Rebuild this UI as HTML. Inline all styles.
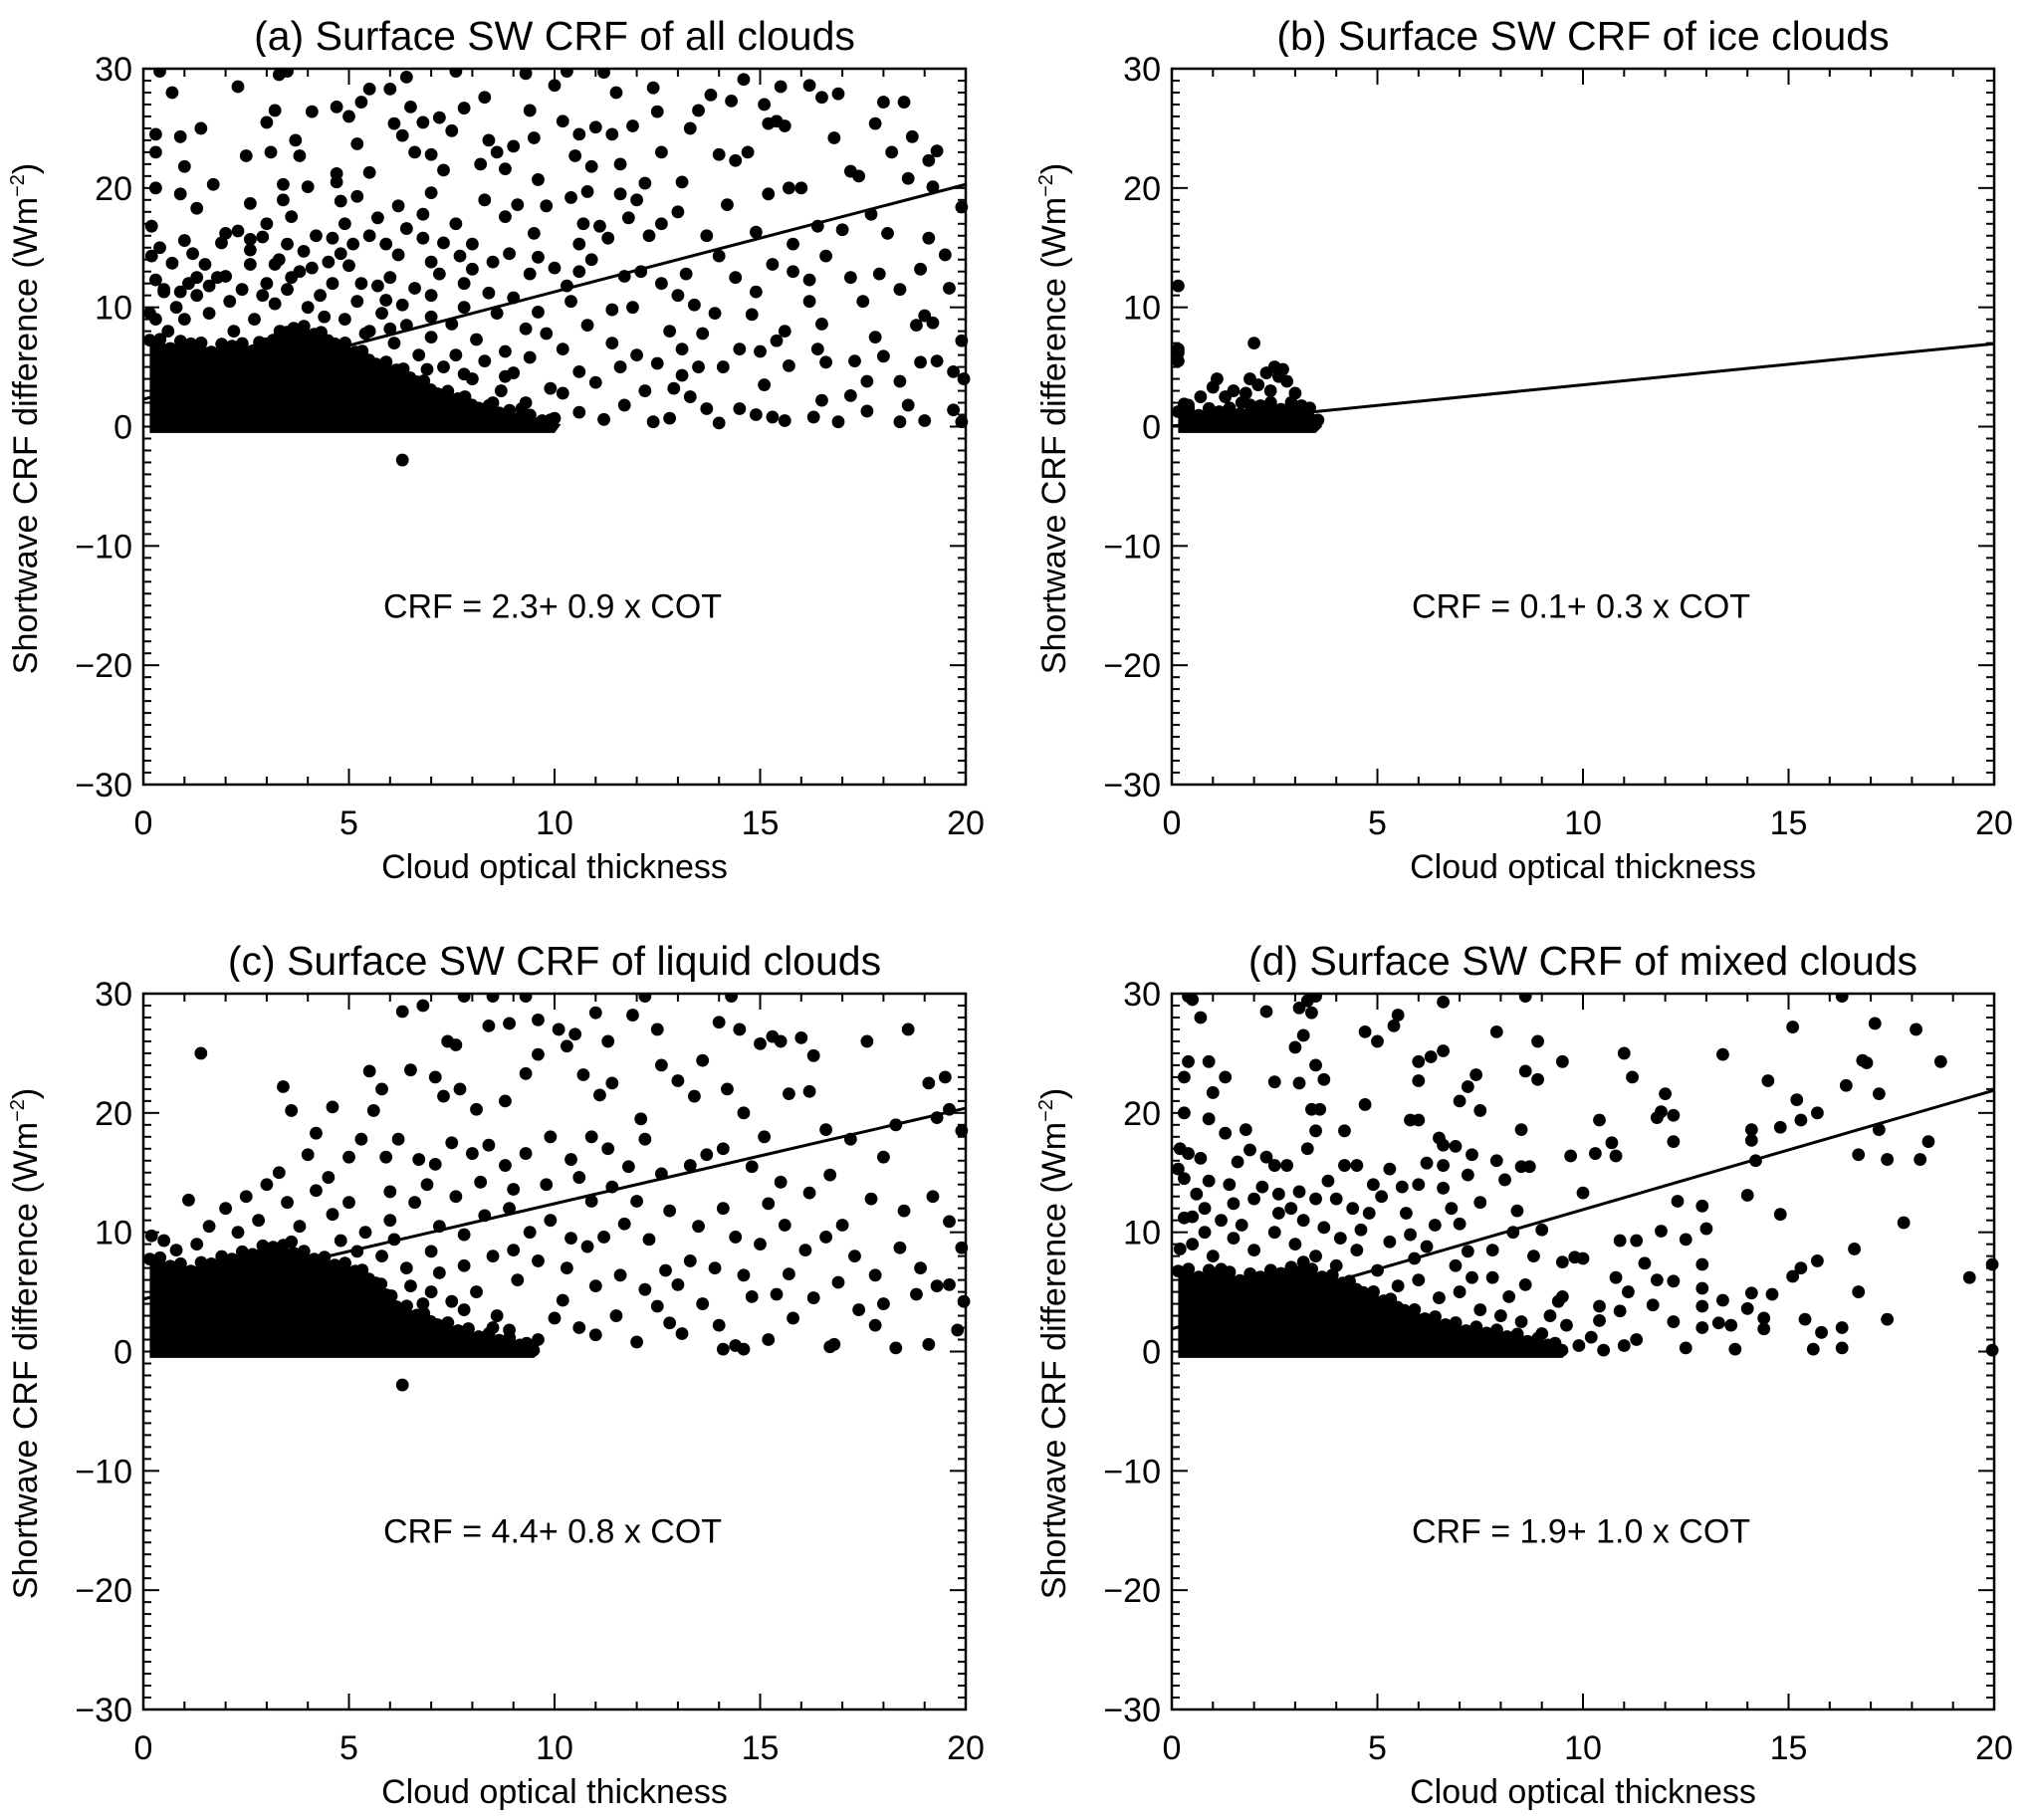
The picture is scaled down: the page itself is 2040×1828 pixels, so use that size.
<!DOCTYPE html>
<html><head><meta charset="utf-8"><style>
html,body{margin:0;padding:0;background:#fff;}
svg{display:block;font-family:"Liberation Sans",Arial,sans-serif;}
</style></head><body>
<svg id="fig" width="2040" height="1828" viewBox="0 0 2040 1828" xmlns="http://www.w3.org/2000/svg"></svg>
<script>
const panelIds=['a','b','c','d'];
const titles=['(a) Surface SW CRF of all clouds','(b) Surface SW CRF of ice clouds','(c) Surface SW CRF of liquid clouds','(d) Surface SW CRF of mixed clouds'];
const equations=['CRF =  2.3+ 0.9 x COT','CRF =  0.1+ 0.3 x COT','CRF =  4.4+ 0.8 x COT','CRF =  1.9+ 1.0 x COT'];
const fitIntercepts=[2.3,0.05,4.4,1.9];
const fitSlopes=[0.9,0.345,0.8,1.0];
const xTickLabels=['0','5','10','15','20'];
const yTickLabels=['\u221230','\u221220','\u221210','0','10','20','30'];
const denseA=[[0,7.5],[0.5,6.8],[1,7.2],[1.5,6.5],[2,7],[2.5,6.6],[3,7.5],[3.5,8.5],[4,8],[4.5,7.2],[5,6.5],[5.5,5.5],[6,5],[6.5,4],[7,3],[7.5,2.6],[8,1.8],[8.5,1.4],[9,1],[9.5,0.6],[10,0.2]];
const denseB=[[0,1.5],[0.5,1.2],[1,1.5],[1.5,1.3],[2,2],[2.5,1.7],[3,2],[3.4,0.8],[3.5,0]];
const denseC=[[0,8],[0.5,7.4],[1,7],[1.5,7.6],[2,8],[2.5,8.4],[3,9],[3.5,8.5],[4,8],[4.5,7.5],[5,7],[5.5,6],[6,4],[6.5,3.3],[7,2.5],[7.5,2],[8,1.5],[8.5,1.2],[9,0.8],[9.5,0]];
const denseD=[[0,7],[0.5,6.5],[1,6.8],[1.5,6.2],[2,6.5],[2.5,6.8],[3,7],[3.5,6.5],[4,6],[4.5,5.2],[5,4.5],[5.5,3.7],[6,3],[6.5,2.5],[7,2],[7.5,1.8],[8,1.5],[8.5,1.1],[9,0.8],[9.5,0]];
const pointsA=[[0.4,29.8],[0.7,28],[0.3,24.5],[0.3,23],[0.9,24.3],[1.0,21.8],[0.3,20],[1.3,18.3],[1.4,25],[0.9,19.5],[2.3,28.5],[2.5,22.7],[3.0,25.5],[3.2,26.5],[3.1,23],[3.3,29.5],[3.5,30],[3.4,20.3],[3.7,24],[3.8,22.7],[3.4,19],[3.6,17.6],[4.1,26.4],[4.0,20.1],[4.7,26.8],[4.7,21.2],[4.7,20.5],[4.8,18.9],[5.0,26],[5.3,27.2],[5.5,28.3],[5.2,23.7],[5.5,21.3],[5.7,17.5],[6.0,28.3],[6.1,25.4],[6.3,24.4],[6.4,29.3],[6.5,26.8],[6.6,23],[6.8,25.5],[7.0,22.8],[7.2,25.9],[7.3,21.5],[7.6,30],[7.8,26.7],[7.5,24.8],[8.2,22],[8.3,27.6],[8.4,24],[8.6,23],[8.8,21.6],[9.0,23.5],[9.3,29.6],[9.5,24.2],[9.4,26.5],[9.1,18.6],[9.6,20.7],[10.0,28.6],[10.2,25.6],[10.3,30],[10.5,22.7],[10.6,24.5],[10.8,19.7],[11.2,29.7],[11.0,25.1],[11.5,28],[11.4,24.5],[11.6,22],[11.9,25.2],[12.2,20.4],[12.5,26.4],[12.6,23],[12.4,28.4],[13.1,20.5],[13.3,25],[13.5,26.5],[13.8,27.8],[14.0,22.8],[14.3,27.3],[14.4,22.3],[14.6,29.1],[14.7,23],[15.1,27],[15.2,25.4],[15.4,25.6],[15.6,25.2],[15.5,28.5],[16.0,20],[16.2,28.6],[16.5,27.6],[16.8,24.2],[16.9,27.9],[17.2,21.4],[17.4,21],[17.8,25.4],[18.0,27.2],[18.2,23],[18.5,27.2],[18.7,24.3],[18.6,20.8],[19.1,22.3],[19.3,23.1],[19.2,20.1],[19.9,18.4],[15.7,20],[15.2,19.5],[14.2,18.6],[13.0,18],[12.0,19],[11.8,17.5],[10.7,17],[10.4,19.2],[9.8,18.5],[8.3,19],[7.6,17],[6.8,17.8],[6.2,18.5],
[0.2,16.8],[0.4,15],[0.2,14.3],[0.7,13.7],[0.5,11.5],[1.1,12],[1.5,13.6],[1.9,15.4],[2.0,16.2],[2.3,16.4],[2.6,15.7],[2.9,15.9],[3.2,13.6],[3.5,15.3],[3.9,14.7],[4.2,16],[4.6,15.8],[5.1,15.3],[5.5,16],[5.9,15.3],[6.4,16.6],[6.8,15.8],[7.3,15.4],[7.7,14.3],[8.0,15.3],[8.5,13.8],[8.9,14.5],[9.6,14.2],[10.0,13.3],[10.3,11.8],[10.6,15.3],[10.9,14],[11.3,15.8],[11.7,12.6],[12.1,13],[12.6,12],[13.0,11],[13.4,10.2],[13.9,9.5],[14.4,12.5],[14.9,11.3],[15.3,13.6],[15.8,13],[16.2,12.3],[16.5,8.6],[17.2,12.5],[17.5,10.5],[17.9,12.8],[18.4,11.5],[18.8,8.5],[19.0,9.3],[19.5,14.4],[19.9,7.2],[19.2,8.7],[17.0,16.5],[16.4,16.8],[17.7,17.8],[18.1,16.2],[19.1,15.8],[14.0,14.3],[13.2,12.8],[12.3,16],[11.1,16.8],[15.8,15.3],[6.0,12.5],[7.0,11],[7.8,10],[8.6,9.5],[9.3,8.2],[9.8,7.8],[10.2,6.5],[10.8,8.5],[11.4,7],[12.0,6],[12.5,5.3],[13.1,4.3],[13.5,5],[14.1,5],[14.5,6.5],[15.0,6.3],[15.4,7.2],[15.7,5.1],[16.4,6.5],[16.6,5.4],[17.3,5.5],[17.6,3.8],[18.0,5.9],[18.4,3.8],[18.9,5.4],[19.3,5.5],[19.7,4.6],[20.0,4],
[8.5,2],[9.2,1.5],[9.7,0.5],[10.2,2.8],[10.6,1.2],[11.2,0.6],[11.7,1.8],[12.2,3],[12.8,0.7],[13.3,2.5],[13.7,1.5],[14.0,0.3],[14.5,1.5],[15.1,3.5],[15.3,0.8],[15.6,0.5],[16.3,0.8],[16.5,2.2],[16.9,0.4],[17.2,2.6],[17.6,1.3],[18.4,0.4],[19.0,0.5],[19.7,1.4],[19.9,0.4],[12.4,0.4],[11.0,3.7],[10.0,0.7],[6.3,-2.8],
[0.1,9.5],[0.3,9],[0.5,11.3],[0.8,10],[1.0,9],[1.3,11],[1.6,9.5],[1.8,12.5],[2.1,10.5],[2.4,11.5],[2.7,9],[3.0,12],[3.2,10.3],[3.5,11.5],[3.8,13],[4.0,10],[4.3,11],[4.6,12],[4.9,9],[5.2,10.5],[5.5,8],[5.8,9.5],[6.1,7],[6.4,8.5],[6.7,6],[7.0,7.5],[7.3,5],[7.6,6],[8.0,4],[8.3,5.5],[8.7,3],[9.0,4.5],[9.3,2],[3.3,14],[2.6,13.6],[1.3,12.5],[5.0,13.5],[5.7,11.8],[6.3,10.2],[7.0,9.2],[7.5,8.6],[8.1,7.3],[8.8,6.3],[9.4,5.8],[4.4,9.2],[2.2,8],[0.6,8],
[0.3,12.3],[0.9,11.3],[1.6,11.8],[2.0,12.6],[2.9,11],[3.6,12.5],[4.1,13.3],[4.5,13.8],[5.3,12],[5.9,10.6],[6.6,11.6],[7.2,12.8],[7.8,12],[8.4,11.2],[9.0,10.8],[9.6,9.6],[5.4,7.8],[6.0,8.2],[6.9,4.8],[7.8,4.4],[8.8,4.2],[9.9,3.2],[10.6,4.6],[11.6,5],[12.8,8],[13.6,7.8],[14.8,9.4],[15.6,8],[16.2,10.5],[12.9,3.2],[11.4,9.8],[10.4,10.5],[9.4,12.8],[8.0,13.2],[7.0,13.8],[6.2,14.4],[4.8,14.5],[2.6,14.8],[1.2,14.5],[1.0,15.6],[3.0,17],[4.9,17],[5.2,19.3],[2.6,18.7],[1.7,20.3],[7.0,19.6],[8.8,17.6],[9.5,16.2],[10.9,21.8],[11.6,19.5],[13.7,16],[12.6,17],[14.9,16.3],[16.6,14.3],[18.9,13.2],[19.6,11.6],[17.8,7.5],[18.6,1.8],[14.9,1],[13.1,6.5],[11.9,10],[10.6,13]];
const pointsB=[[0.05,11.8],[0.1,6.5],[0.1,5.5],[0.15,6.2],[2.0,7],[2.5,5],[2.7,4.8],[2.3,4.5],[1.9,4],[1.1,4],[2.8,3.8],[2.1,3.5],[1.5,3],[0.7,2.5],[1.3,2.5],[0.4,1.8],[2.4,3],[3.0,2.8],[3.2,1.5],[3.5,0.5],[1.7,2],[2.9,1.2],[1.0,3.3],[2.6,4.2],[1.8,2.8],[0.3,1.9]];
const pointsC=[[9.3,30.5],[7.8,30],[8.5,30.5],[12.2,30.5],[14.3,30.5],[6.3,28.5],[6.8,29],[7.4,26],[7.6,25.7],[8.4,27.3],[8.9,27.5],[9.6,27.8],[10.1,27],[10.5,26.6],[11.0,28.4],[11.3,26],[11.9,28.2],[12.5,27],[12.6,24],[13.6,24.4],[14.0,27.6],[14.5,27],[15.0,25.8],[15.3,26.4],[15.5,26],[16.0,26.3],[16.3,24.8],[17.6,26],[18.6,27],[19.1,22.5],[19.5,23],[19.9,18.5],[1.4,25],[3.4,22.2],[3.6,20.2],[4.2,18.3],[4.6,20.5],[5.6,20.2],[5.8,22],[5.5,23.5],[6.5,23.6],[7.1,23],[7.3,21.4],[7.7,22],[8.1,20.3],[8.8,21],[9.3,23.3],[9.6,24.9],[10.3,25.6],[10.7,23.2],[11.1,21.5],[11.4,22.5],[12.1,19.5],[13.0,22.7],[13.4,21.4],[14.2,22],[14.6,20],[15.1,18],[15.7,21.6],[16.2,21.8],[16.6,18.6],[17.2,17.8],[18.0,16.3],[18.3,19],[19.3,19.6],[19.6,20.3],[4.0,16.5],[4.5,14.6],[5.0,16.3],[5.3,17.8],[5.9,16.3],[6.2,17.8],[6.7,16.1],[7.1,15.7],[7.5,17.5],[8.0,16.6],[8.4,17.3],[8.8,15.6],[9.3,16.6],[9.9,18],[10.4,16.1],[10.9,18],[11.3,17],[11.8,15.5],[12.2,17.8],[12.6,14.9],[13.3,15.6],[13.7,16.5],[14.1,17],[14.8,15.5],[15.5,14.2],[16.2,13.3],[16.7,14.8],[17.7,12.8],[18.5,11.8],[19.2,13],[19.6,10.9],[19.9,8.7],
[6,11],[6.6,12.5],[7.2,10.5],[7.8,9.8],[8.3,11.4],[8.9,12],[9.4,10],[9.9,11],[10.4,9.5],[10.9,12.6],[11.2,9.6],[11.7,10.7],[12.3,9.4],[12.8,11.8],[13.5,10.5],[14.1,12],[14.4,9.6],[15.0,9],[15.6,10.6],[16.1,8.5],[16.6,9.6],[17.3,8],[17.8,6.4],[18.4,8.7],[18.9,7],[19.3,5.5],[19.6,5.6],[20,4.2],[19.8,1.8],[19.1,0.6],[18.3,0.3],[17.8,2.2],[17.4,3.5],[16.8,0.6],[16.3,4.5],[15.8,2.8],[15.2,1],[14.8,4.6],[14.4,0.5],[14.0,2.2],[13.6,4],[13.1,1.5],[12.5,3.8],[12.0,0.8],[11.5,3],[11.0,5.5],[10.6,2],[10.2,4.3],[9.6,1],[9.1,6],[8.6,3],[8.1,5],[7.6,1],[7.2,6.6],[6.8,4],[6.3,-2.8],[14.1,0.2],[14.6,0.2],[16.7,0.4],[11.6,6.4],[12.7,6.8],[13.3,7.6],[10.3,7],[9.0,8.5],[15.7,6.5],
[0.2,9.7],[0.5,9.3],[1.1,12.7],[1.6,10.5],[2.0,12],[2.5,13],[2.8,11],[3.0,14],[3.3,15],[3.5,12.5],[3.8,10.5],[4.2,13.5],[4.6,11.5],[5.0,12.5],[5.4,10],[1.3,9],[2.3,10],[0.8,8.5],[3.6,9.2],[4.8,9.3],[5.8,8],[6.4,7],[7.0,5],[7.8,3.5],[8.5,2],[5.2,8.4],[6.1,9.4],
[6.0,13.4],[6.9,14],[7.6,13],[8.2,14.2],[9.0,13.6],[9.8,14],[10.6,14.6],[11.4,13.8],[12.0,12.6],[7.0,8.4],[7.8,7.2],[8.5,8],[9.6,7.6],[10.8,8.8],[12.2,5.2],[13.0,5.6],[13.9,7],[14.6,6.4],[15.4,4.8],[16.9,5.8],[18.0,4],[18.8,4.8],[17.0,10.6],[15.2,12.4],[6.5,5.5],[7.5,4.2],[8.9,1.8],[10.0,2.8],[11.0,1.4],[12.8,2.4]];
const pointsD=[[0.4,30],[0.5,29.5],[0.7,28],[0.4,24.3],[0.3,23],[0.3,20],[0.9,24.3],[1.0,21.7],[0.9,19.5],[1.3,18.3],[1.3,23],[2.3,28.5],[2.5,22.6],[3.0,25.5],[3.1,28.8],[3.2,26.5],[3.1,22.5],[3.3,29.4],[3.4,28.4],[3.5,30.3],[3.5,24],[3.7,22.8],[3.4,20.3],[3.6,20.3],[3.5,18.5],[4.2,18.5],[4.7,26.8],[4.7,20.7],[5.0,26],[5.4,27.3],[5.5,28.2],[6.0,22.7],[6.0,24.3],[6.3,24.7],[6.6,29.3],[6.6,25.2],[5.8,19.4],[6.0,19.4],[7.0,21],[7.2,22.2],[7.4,23.2],[7.5,20.2],[7.9,26.8],[8.6,23.5],[8.6,30.5],[8.9,26],[8.9,22.8],[9.5,24.3],[11.0,25],[11.2,23],[11.8,19.6],[11.9,20.1],[12.2,19.8],[12.2,17.6],[12.0,21.6],[13.4,24.9],[14.5,22.7],[14.1,18.6],[14.1,17.7],[15.1,27.2],[15.2,21.1],[15.3,19.4],[15.7,20],[14.8,18.8],[16.3,30.5],[16.4,22.3],[16.7,16.5],[16.8,24.4],[16.9,24.2],[17.1,27.5],[17.2,21.6],[17.2,18.6],[17.4,16.1],[18.1,27],[18.2,16.1],[18.4,17.6],[18.7,24.3],[19.4,6.2],[20,7.3],[20,0.1],[17.8,10.8],[17.4,2.7],[16.6,8.6],[16.7,5],[16.3,2],[16.3,0.3],[15.7,7.6],[15.8,1.6],[15.6,0.2],[15.4,2.7],[15.3,7],[15.1,6.3],[14.8,11.5],[14.6,4.8],[14.4,1.9],[14.4,2.8],[14.1,4.9],[14.0,3.6],[14.0,13.1],[14.2,16],[13.7,0.2],[13.6,2.2],[13.3,2.4],[13.4,4.3],[13.0,10.3],[12.9,12.2],[12.9,7.3],[12.9,5.3],[12.9,3.8],[12.9,2],[12.5,9.4],[12.5,0.3],[12.3,12.6],[12.2,5.9],[12.2,2.5],[11.9,10.1],[11.8,6],[11.7,3.9],[11.5,7.4],[11.3,9.3],[11.3,1],[11.1,5],[10.8,16.4],[10.9,9.3],[10.8,6.2],[10.7,17.5],[10.4,19.4],[10.4,3.8],[10.5,0.1],[10.3,16.6],[10.0,13.3],[9.9,0.5],[9.7,16.4],[10.0,7.8],[9.8,7.9],[9.5,7.5],[9.5,4.6],[9.2,3],[8.8,8],[9.0,10.2],[8.7,15.5],[8.5,15.5],[8.5,18.6],[8.4,11.8],[8.1,14.4],[8.3,10],[7.9,16],[7.8,8.5],[7.5,12.5],[7.3,16.5],[7.2,14.8],[7.0,10.7],[6.9,17.2],[6.6,17.3],[6.5,17.9],[6.6,15.6],[6.6,13.7],[6.2,15.8],[6.2,8.8],[6.0,14],[5.8,9.8],[5.6,13.8],[5.3,15.3],[5.1,13],[4.9,14],[4.8,11.6],[4.5,15.6],[4.2,15.6],[4.4,12],[4.1,9.5],[3.8,14.3],[3.5,12.8],[3.3,17],[3.1,13.4],[3.2,11],[2.8,15.6],[2.6,13.2],[2.5,15.6],[2.3,16.3],[2.2,13.8],[2.0,12.8],[1.9,16.9],[1.8,18.6],[1.6,15.9],[1.4,14],[1.2,11],[0.9,14.3],[0.8,12],[0.5,11.3],[0.3,14.5],[0.1,15.3],[0.2,17],[0.4,16.6],[0.7,16.2],[0.3,11.2],[0.2,8.6],
[0.5,9],[1,8],[1.5,9.5],[2,8.5],[2.5,10],[3,9],[3.5,8],[4,7.2],[4.5,8.5],[5,6.8],[5.5,5.5],[6,6],[6.5,4.5],[7,5],[7.5,3.5],[8,3],[8.5,2.5],[9,1.5],[1.2,6.9],[3.2,7.5],[7.3,6.2],[8.2,4.6],[9.6,2.2],[10.2,1.2],[11.0,0.5],
[0.8,10],[1.7,10.6],[2.6,11.6],[3.7,10.4],[4.6,10.2],[5.3,9.2],[6.4,10.6],[7.2,8.4],[0.6,13.2],[1.5,12.4],[2.9,12],[4.0,12.8],[5.7,11.6],[6.8,12],[5.9,7.8],[6.9,7.2],[7.8,6.2],[8.6,5.6],[9.4,4.2],[10.4,2.6],[10.9,3.4],[8.6,0.8],[6.6,1.6],[4.9,2.4]];
const denseAll=[denseA,denseB,denseC,denseD];
const pointsAll=[pointsA,pointsB,pointsC,pointsD];

const NS='http://www.w3.org/2000/svg';
const svg=document.getElementById('fig');
const lefts=[144,1177,144,1177], tops=[69,69,998,998];
const PW=826, PH=719, XMAX=20, YMIN=-30, YMAX=30, R=6.4;
function mk(tag,attrs,parent){const e=document.createElementNS(NS,tag);for(const k in attrs)e.setAttribute(k,attrs[k]);(parent||svg).appendChild(e);return e;}

panelIds.forEach((pid,i)=>{
  const L=lefts[i],T=tops[i];
  const sx=v=>L+v/XMAX*PW;
  const sy=v=>T+(YMAX-v)/(YMAX-YMIN)*PH;
  const g=mk('g',{});
  
  
  const t=mk('text',{x:L+PW/2,y:T-19,'text-anchor':'middle','font-size':41},g);
  t.textContent=titles[i];
  
  
  // dense region
  const d=denseAll[i];
  let ps=[[sx(d[0][0])+R,sy(0)+R]];
  d.forEach(p=>ps.push([sx(p[0])+R,sy(p[1])]));
  ps.push([sx(d[d.length-1][0]),sy(0)+R]);
  const poly=mk('polygon',{points:ps.map(p=>p.join(',')).join(' '),fill:'#000'},g);
  
  
  // rough edge of dense region: dots along envelope
  for(let k=0;k<d.length-1;k++){
    const x0=sx(d[k][0])+R,y0=sy(d[k][1]),x1=sx(d[k+1][0])+R,y1=sy(d[k+1][1]);
    const n=Math.max(1,Math.round(Math.hypot(x1-x0,y1-y0)/9));
    for(let s=0;s<n;s++){
      const f=s/n;
      const c=mk('circle',{cx:x0+(x1-x0)*f,cy:Math.min(y0+(y1-y0)*f+((s%2)?-2:3),sy(0)-R+5),r:R,fill:'#000'},g);
      
      
    }
  }
  const ln=mk('line',{x1:sx(0),y1:sy(fitIntercepts[i]),x2:sx(XMAX),y2:sy(fitIntercepts[i]+fitSlopes[i]*XMAX),stroke:'#000','stroke-width':3},g);
  
  
  pointsAll[i].forEach(p=>{
    let cx=sx(p[0]);cx=Math.max(L+R,Math.min(L+PW-R*0.3,cx));
    let cy=sy(p[1]);cy=Math.max(T+R*0.4,cy);
    if(p[1]>=0) cy=Math.min(cy,sy(0)-R+5);
    const c=mk('circle',{cx:cx,cy:cy,r:R,fill:'#000'},g);
    
    
  });
  mk('rect',{x:L-60,y:T-12,width:PW+120,height:12,fill:'#fff'},g);
  const fr=mk('rect',{x:L,y:T,width:PW,height:PH,fill:'none',stroke:'#000','stroke-width':2.5},g);
  
  
  for(let v=0;v<=XMAX;v++){
    const len=v%5===0?16:8;
    mk('line',{x1:sx(v),y1:T+PH,x2:sx(v),y2:T+PH-len,stroke:'#000','stroke-width':2},g);
    mk('line',{x1:sx(v),y1:T,x2:sx(v),y2:T+len,stroke:'#000','stroke-width':2},g);
  }
  xTickLabels.forEach((lab,k)=>{
    const tx=mk('text',{x:sx(k*5),y:T+PH+50,'text-anchor':'middle','font-size':34},g);
    tx.textContent=lab;
    
    
  });
  for(let v=YMIN;v<=YMAX;v++){
    const len=v%10===0?16:8;
    mk('line',{x1:L,y1:sy(v),x2:L+len,y2:sy(v),stroke:'#000','stroke-width':2},g);
    mk('line',{x1:L+PW,y1:sy(v),x2:L+PW-len,y2:sy(v),stroke:'#000','stroke-width':2},g);
  }
  yTickLabels.forEach((lab,k)=>{
    const ty=mk('text',{x:L-11,y:sy(YMIN+k*10)+12,'text-anchor':'end','font-size':34},g);
    ty.textContent=lab;
    
    
  });
  const xl=mk('text',{x:L+PW/2,y:T+PH+94,'text-anchor':'middle','font-size':34},g);
  xl.textContent='Cloud optical thickness';
  
  
  const yl=mk('text',{x:0,y:0,'text-anchor':'middle','font-size':34,transform:'translate('+(L-107)+','+(T+PH/2-8)+') rotate(-90)'},g);
  
  
  yl.innerHTML='Shortwave CRF difference (Wm<tspan dy="-13" font-size="20">\u22122</tspan><tspan dy="13">)</tspan>';
  const eq=mk('text',{x:L+PW/2-2,y:sy(-15)+12,'text-anchor':'middle','font-size':34},g);
  eq.textContent=equations[i];
  
  
});
</script>
</body></html>
